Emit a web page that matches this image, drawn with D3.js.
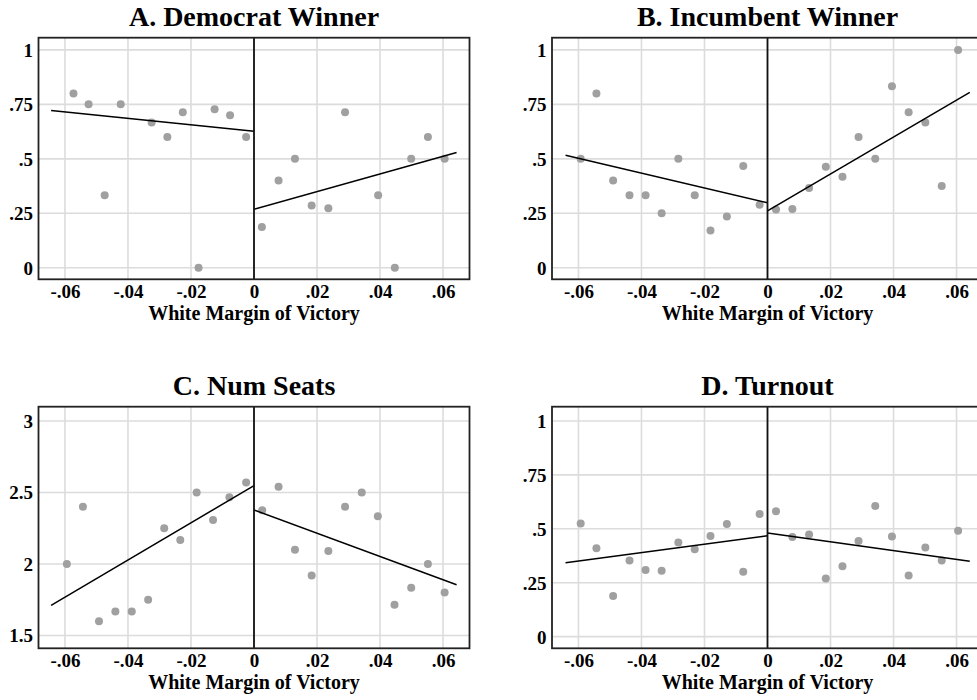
<!DOCTYPE html>
<html>
<head>
<meta charset="utf-8">
<script src="https://cdn.jsdelivr.net/npm/d3@7/dist/d3.min.js"></script>
<style>
  html, body { margin: 0; padding: 0; background: #fff; overflow: hidden; }
  svg { display: block; }
  text { font-family: "Liberation Serif", "Times New Roman", serif; font-weight: bold; fill: #000; }
</style>
</head>
<body>
<svg id="chart" width="977" height="700"></svg>
<script>
// ---------- data ----------
const xTickVals = [-0.06, -0.04, -0.02, 0, 0.02, 0.04, 0.06];
const xTickLabels = ["-.06", "-.04", "-.02", "0", ".02", ".04", ".06"];
const probTickVals = [0, 0.25, 0.5, 0.75, 1];
const probTickLabels = ["0", ".25", ".5", ".75", "1"];
const seatTickVals = [1.5, 2, 2.5, 3];
const seatTickLabels = ["1.5", "2", "2.5", "3"];
const xAxisTitle = "White Margin of Victory";

// A. Democrat Winner
const demX = [-0.0573, -0.0525, -0.0474, -0.0423, -0.0325, -0.0275, -0.0226, -0.0176, -0.0125, -0.0076, -0.0025,
              0.0025, 0.0078, 0.013, 0.0183, 0.0236, 0.0289, 0.0394, 0.0447, 0.0499, 0.0552, 0.0605];
const demY = [0.80, 0.75, 0.333, 0.75, 0.667, 0.60, 0.714, 0.0, 0.727, 0.70, 0.60,
              0.187, 0.40, 0.50, 0.286, 0.273, 0.714, 0.333, 0.0, 0.50, 0.60, 0.50];
const demFitLeft = [[-0.0644, 0.722], [0, 0.627]];
const demFitRight = [[0, 0.268], [0.0643, 0.529]];

// B. Incumbent Winner
const incX = [-0.0593, -0.0543, -0.049, -0.0438, -0.0387, -0.0336, -0.0283, -0.0231, -0.0181, -0.0129, -0.0077, -0.0025,
              0.0027, 0.0079, 0.0132, 0.0185, 0.0238, 0.0289, 0.0342, 0.0395, 0.0448, 0.0501, 0.0553, 0.0605];
const incY = [0.50, 0.80, 0.40, 0.333, 0.333, 0.25, 0.50, 0.333, 0.171, 0.235, 0.467, 0.289,
              0.267, 0.27, 0.366, 0.464, 0.418, 0.60, 0.50, 0.833, 0.714, 0.667, 0.375, 1.0];
const incFitLeft = [[-0.0641, 0.516], [0, 0.298]];
const incFitRight = [[0, 0.261], [0.0642, 0.805]];

// C. Num Seats
const seatX = [-0.0594, -0.0543, -0.0492, -0.044, -0.0388, -0.0336, -0.0285, -0.0234, -0.0182, -0.013, -0.0078, -0.0025,
               0.0026, 0.0078, 0.013, 0.0183, 0.0236, 0.0289, 0.0342, 0.0393, 0.0446, 0.0499, 0.0552, 0.0605];
const seatY = [2.0, 2.4, 1.6, 1.667, 1.667, 1.75, 2.25, 2.167, 2.5, 2.308, 2.467, 2.57,
               2.375, 2.54, 2.1, 1.92, 2.09, 2.4, 2.5, 2.333, 1.714, 1.833, 2.0, 1.8];
const seatFitLeft = [[-0.0644, 1.71], [0, 2.548]];
const seatFitRight = [[0, 2.378], [0.0643, 1.854]];

// D. Turnout
const turnX = [-0.0593, -0.0543, -0.049, -0.0438, -0.0387, -0.0336, -0.0283, -0.0231, -0.0181, -0.0129, -0.0077, -0.0025,
               0.0027, 0.0079, 0.0132, 0.0185, 0.0238, 0.0289, 0.0342, 0.0395, 0.0448, 0.0501, 0.0553, 0.0605];
const turnY = [0.525, 0.410, 0.189, 0.353, 0.309, 0.306, 0.436, 0.405, 0.467, 0.522, 0.301, 0.569,
               0.581, 0.462, 0.473, 0.269, 0.326, 0.443, 0.606, 0.464, 0.284, 0.413, 0.353, 0.491];
const turnFitLeft = [[-0.0641, 0.343], [0, 0.468]];
const turnFitRight = [[0, 0.481], [0.0642, 0.349]];

// ---------- layout ----------
const panels = [
  { title: "A. Democrat Winner", left: 38.5, top: 37.7, xs: demX, ys: demY, fits: [demFitLeft, demFitRight],
    yDomain: [-0.053, 1.056], yTicks: probTickVals, yLabels: probTickLabels },
  { title: "B. Incumbent Winner", left: 552, top: 37.7, xs: incX, ys: incY, fits: [incFitLeft, incFitRight],
    yDomain: [-0.053, 1.056], yTicks: probTickVals, yLabels: probTickLabels },
  { title: "C. Num Seats", left: 38.5, top: 406.7, xs: seatX, ys: seatY, fits: [seatFitLeft, seatFitRight],
    yDomain: [1.41, 3.1], yTicks: seatTickVals, yLabels: seatTickLabels },
  { title: "D. Turnout", left: 552, top: 406.7, xs: turnX, ys: turnY, fits: [turnFitLeft, turnFitRight],
    yDomain: [-0.054, 1.066], yTicks: probTickVals, yLabels: probTickLabels }
];
const plotW = 431, plotH = 241.6;
const xDomain = [-0.0684, 0.0684];
const FONT = '"Liberation Serif", "Times New Roman", serif';

const svg = d3.select("#chart");

panels.forEach(p => {
  const g = svg.append("g").attr("transform", `translate(${p.left},${p.top})`);
  const x = d3.scaleLinear().domain(xDomain).range([0, plotW]);
  const y = d3.scaleLinear().domain(p.yDomain).range([plotH, 0]);

  // grid
  g.append("g").selectAll("line").data(p.yTicks).join("line")
    .attr("x1", 0).attr("x2", plotW)
    .attr("y1", d => y(d)).attr("y2", d => y(d))
    .attr("stroke", "#dcdcdc").attr("stroke-width", 1.6);
  g.append("g").selectAll("line").data(xTickVals).join("line")
    .attr("y1", 0).attr("y2", plotH)
    .attr("x1", d => x(d)).attr("x2", d => x(d))
    .attr("stroke", "#dcdcdc").attr("stroke-width", 1.6);

  // points
  g.append("g").selectAll("circle").data(p.xs.map((v, i) => [v, p.ys[i]])).join("circle")
    .attr("cx", d => x(d[0])).attr("cy", d => y(d[1])).attr("r", 4)
    .attr("fill", "#a0a0a0");

  // fit lines
  const line = d3.line().x(d => x(d[0])).y(d => y(d[1]));
  p.fits.forEach(f => {
    g.append("path").attr("d", line(f)).attr("fill", "none")
      .attr("stroke", "#000").attr("stroke-width", 1.5);
  });

  // zero line
  g.append("line").attr("x1", x(0)).attr("x2", x(0)).attr("y1", 0).attr("y2", plotH)
    .attr("stroke", "#111").attr("stroke-width", 1.8);

  // frame
  g.append("rect").attr("x", 0).attr("y", 0).attr("width", plotW).attr("height", plotH)
    .attr("fill", "none").attr("stroke", "#222").attr("stroke-width", 1.8);

  // x axis labels
  const xAxis = d3.axisBottom(x).tickValues(xTickVals).tickSize(0)
    .tickFormat((d, i) => xTickLabels[i]);
  const xa = g.append("g").attr("transform", `translate(0,${plotH})`).call(xAxis)
    .attr("font-family", FONT).attr("font-size", 19);
  xa.select(".domain").remove();
  xa.selectAll("text").attr("dy", null).attr("y", 18.6)
    .style("font-size", "19px").style("font-family", FONT).style("font-weight", "bold").attr("fill", "#000");

  // y axis labels
  const yAxis = d3.axisLeft(y).tickValues(p.yTicks).tickSize(0)
    .tickFormat((d, i) => p.yLabels[i]);
  const ya = g.append("g").call(yAxis)
    .attr("font-family", FONT).attr("font-size", 19);
  ya.select(".domain").remove();
  ya.selectAll("text").attr("x", -5.5).attr("dy", "0.34em")
    .style("font-size", "19px").style("font-family", FONT).style("font-weight", "bold").attr("fill", "#000");

  // axis title
  g.append("text").attr("x", x(0)).attr("y", plotH + 40.7)
    .attr("text-anchor", "middle").style("font-size", "20px").text(xAxisTitle);

  // panel title
  g.append("text").attr("x", x(0)).attr("y", -11.3)
    .attr("text-anchor", "middle").style("font-size", "28px").text(p.title);
});
</script>
</body>
</html>
